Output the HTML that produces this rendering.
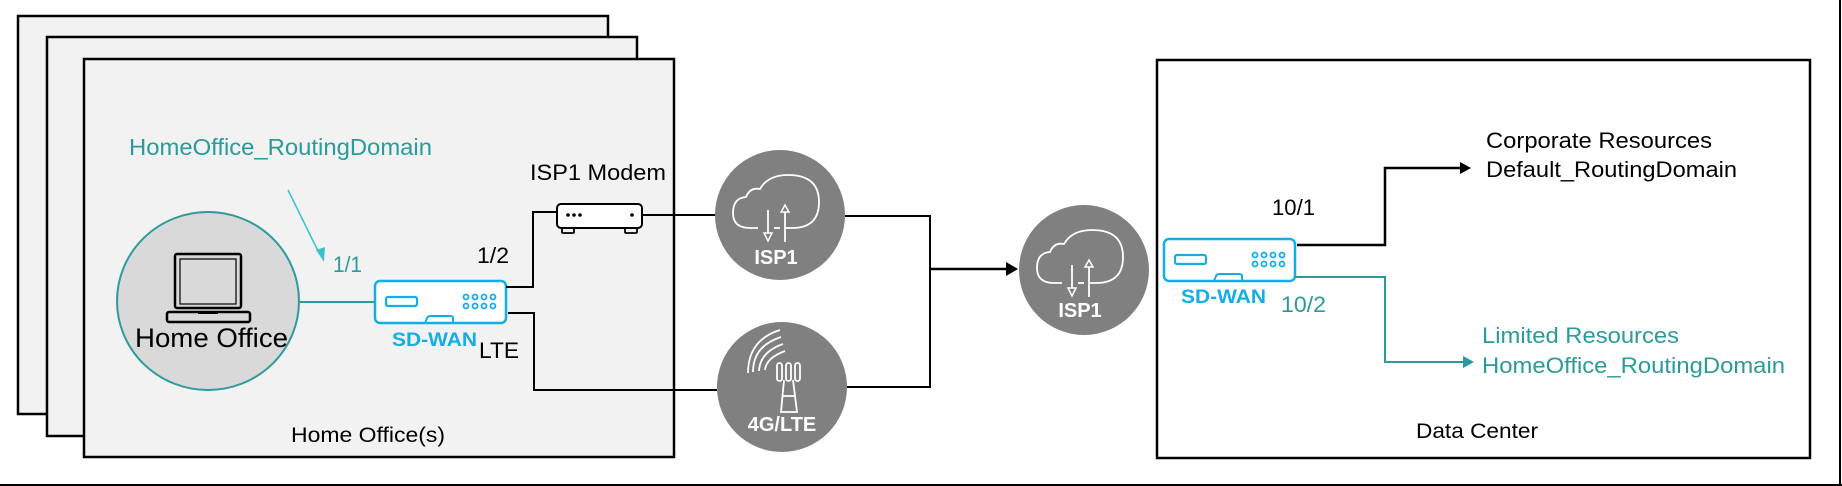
<!DOCTYPE html>
<html><head><meta charset="utf-8"><style>
html,body{margin:0;padding:0;background:#fff;}
svg{display:block;}
text{font-family:"Liberation Sans",Arial,sans-serif;}
</style></head><body>
<svg width="1842" height="486" viewBox="0 0 1842 486" xmlns="http://www.w3.org/2000/svg">
<defs>
<g id="sdwan">
 <rect x="0" y="0" width="131" height="42" rx="5" fill="#fff" stroke="#12aee8" stroke-width="2.5"/>
 <rect x="11" y="16" width="31" height="9" rx="2" fill="none" stroke="#12aee8" stroke-width="2.2"/>
 <g fill="none" stroke="#12aee8" stroke-width="1.8">
  <circle cx="91" cy="16" r="2.5"/><circle cx="100" cy="16" r="2.5"/><circle cx="109" cy="16" r="2.5"/><circle cx="118" cy="16" r="2.5"/>
  <circle cx="91" cy="25" r="2.5"/><circle cx="100" cy="25" r="2.5"/><circle cx="109" cy="25" r="2.5"/><circle cx="118" cy="25" r="2.5"/>
 </g>
 <path d="M50 42 L52 37 Q53 35 56 35 L75 35 Q78 35 78 37 L78 42" fill="none" stroke="#12aee8" stroke-width="2"/>
</g>
<g id="cloud">
 <path d="M-22 13 L-30 13 Q-47 13 -47 -2 Q-47 -17 -34 -18 Q-30 -28 -20 -26 Q-12 -40 8 -40 Q39 -40 39 -13 Q39 13 12 13 L5 13" fill="none" stroke="#fff" stroke-width="1.8"/>
 <line x1="-6" y1="13" x2="0" y2="13" stroke="#fff" stroke-width="1.8"/>
 <line x1="-12" y1="-5" x2="-12" y2="18" stroke="#fff" stroke-width="1.8"/>
 <path d="M-16 18 L-8 18 L-12 26 Z" fill="none" stroke="#fff" stroke-width="1.5"/>
 <line x1="5" y1="-3" x2="5" y2="27" stroke="#fff" stroke-width="1.8"/>
 <path d="M1 -3 L9 -3 L5 -10 Z" fill="none" stroke="#fff" stroke-width="1.5"/>
</g>
</defs>

<line x1="0" y1="485" x2="1842" y2="485" stroke="#000" stroke-width="2"/>
<line x1="1840" y1="0" x2="1840" y2="486" stroke="#000" stroke-width="2"/>

<rect x="18" y="16" width="590" height="398" fill="#f2f2f2" stroke="#000" stroke-width="2.5"/>
<rect x="47" y="37" width="590" height="399" fill="#f2f2f2" stroke="#000" stroke-width="2.5"/>
<rect x="84" y="59" width="590" height="398" fill="#f2f2f2" stroke="#000" stroke-width="2.5"/>

<rect x="1157" y="60" width="653" height="398" fill="#fff" stroke="#000" stroke-width="2.5"/>

<ellipse cx="208" cy="301" rx="91" ry="89" fill="#d9d9d9" stroke="#2e9a9a" stroke-width="2"/>
<rect x="175" y="254" width="66" height="54" rx="2" fill="none" stroke="#000" stroke-width="2.5"/>
<rect x="180" y="259" width="56" height="45" fill="none" stroke="#000" stroke-width="1.2"/>
<rect x="167" y="312" width="83" height="10" rx="2" fill="none" stroke="#000" stroke-width="2.5"/>
<rect x="198" y="311" width="20" height="3" fill="#000"/>
<text x="135" y="347" font-size="27" textLength="153" lengthAdjust="spacingAndGlyphs" fill="#000">Home Office</text>

<text x="129" y="155" font-size="23" textLength="303" lengthAdjust="spacingAndGlyphs" fill="#2a9a9a">HomeOffice_RoutingDomain</text>
<line x1="288" y1="190" x2="319" y2="253" stroke="#3cc0cc" stroke-width="1.5"/>
<path d="M316 250 L324 262 L325 247 Z" fill="#3cc0cc"/>
<text x="333" y="272" font-size="22" textLength="29" lengthAdjust="spacingAndGlyphs" fill="#2a9a9a">1/1</text>

<line x1="300" y1="302" x2="374" y2="302" stroke="#2a9a9a" stroke-width="2"/>
<use href="#sdwan" x="375" y="281"/>
<text x="392" y="346" font-size="19" font-weight="bold" textLength="85" lengthAdjust="spacingAndGlyphs" fill="#12aee8">SD-WAN</text>
<text x="479" y="358" font-size="22" textLength="40" lengthAdjust="spacingAndGlyphs" fill="#000">LTE</text>
<text x="477" y="263" font-size="22" textLength="32" lengthAdjust="spacingAndGlyphs" fill="#000">1/2</text>

<polyline points="506,287 533,287 533,212 557,212" fill="none" stroke="#000" stroke-width="2"/>
<polyline points="508,313 534,313 534,390 717,390" fill="none" stroke="#000" stroke-width="2"/>

<rect x="557" y="204" width="85" height="24" rx="4" fill="#fff" stroke="#000" stroke-width="2"/>
<rect x="562" y="228" width="12" height="5" rx="1" fill="none" stroke="#000" stroke-width="1.8"/>
<rect x="625" y="228" width="12" height="5" rx="1" fill="none" stroke="#000" stroke-width="1.8"/>
<circle cx="568" cy="215" r="1.8" fill="#000"/><circle cx="574" cy="215" r="1.8" fill="#000"/><circle cx="580" cy="215" r="1.8" fill="#000"/>
<circle cx="632" cy="215" r="1.8" fill="#000"/>
<text x="530" y="180" font-size="22" textLength="136" lengthAdjust="spacingAndGlyphs" fill="#000">ISP1 Modem</text>
<line x1="642" y1="215" x2="716" y2="215" stroke="#000" stroke-width="2"/>

<circle cx="780" cy="215" r="65" fill="#808080"/>
<use href="#cloud" x="780" y="215"/>
<text x="776" y="264" font-size="20" font-weight="bold" fill="#fff" text-anchor="middle">ISP1</text>

<circle cx="782" cy="387" r="65" fill="#808080"/>
<g fill="none" stroke="#fff" stroke-width="1.8">
 <path d="M748 373 Q748 340 780 330"/>
 <path d="M753 372 Q753 346 781 337"/>
 <path d="M759 371 Q760 352 783 344"/>
 <path d="M765 370 Q766 358 785 351"/>
 <rect x="777" y="363" width="5" height="18" rx="2.5"/>
 <rect x="786" y="363" width="5" height="18" rx="2.5"/>
 <rect x="795" y="363" width="5" height="18" rx="2.5"/>
 <path d="M784 380 L781 412 L797 412 L793 380"/>
 <line x1="783" y1="396" x2="795" y2="396"/>
</g>
<text x="782" y="431" font-size="20" font-weight="bold" fill="#fff" text-anchor="middle">4G/LTE</text>

<polyline points="845,216 930,216 930,387 847,387" fill="none" stroke="#000" stroke-width="2"/>
<line x1="930" y1="269" x2="1008" y2="269" stroke="#000" stroke-width="2.5"/>
<path d="M1006 262 L1018 269 L1006 276 Z" fill="#000"/>

<circle cx="1084" cy="270" r="65" fill="#808080"/>
<use href="#cloud" x="1084" y="270"/>
<text x="1080" y="317" font-size="20" font-weight="bold" fill="#fff" text-anchor="middle">ISP1</text>

<use href="#sdwan" x="1164" y="239"/>
<text x="1181" y="303" font-size="19" font-weight="bold" textLength="85" lengthAdjust="spacingAndGlyphs" fill="#12aee8">SD-WAN</text>
<text x="1272" y="215" font-size="22" textLength="43" lengthAdjust="spacingAndGlyphs" fill="#000">10/1</text>
<text x="1281" y="312" font-size="22" textLength="45" lengthAdjust="spacingAndGlyphs" fill="#2a9a9a">10/2</text>

<polyline points="1297,245 1385,245 1385,168 1462,168" fill="none" stroke="#000" stroke-width="2.5"/>
<path d="M1460 162 L1471 168 L1460 174 Z" fill="#000"/>
<polyline points="1295,277 1385,277 1385,362 1465,362" fill="none" stroke="#2a9a9a" stroke-width="2"/>
<path d="M1463 356 L1474 362 L1463 368 Z" fill="#2a9a9a"/>

<text x="1486" y="148" font-size="22" textLength="226" lengthAdjust="spacingAndGlyphs" fill="#000">Corporate Resources</text>
<text x="1486" y="177" font-size="22" textLength="251" lengthAdjust="spacingAndGlyphs" fill="#000">Default_RoutingDomain</text>
<text x="1482" y="343" font-size="22" textLength="197" lengthAdjust="spacingAndGlyphs" fill="#2a9a9a">Limited Resources</text>
<text x="1482" y="373" font-size="22" textLength="303" lengthAdjust="spacingAndGlyphs" fill="#2a9a9a">HomeOffice_RoutingDomain</text>

<text x="1416" y="438" font-size="21" textLength="122" lengthAdjust="spacingAndGlyphs" fill="#000">Data Center</text>
<text x="291" y="442" font-size="21" textLength="154" lengthAdjust="spacingAndGlyphs" fill="#000">Home Office(s)</text>
</svg>
</body></html>
